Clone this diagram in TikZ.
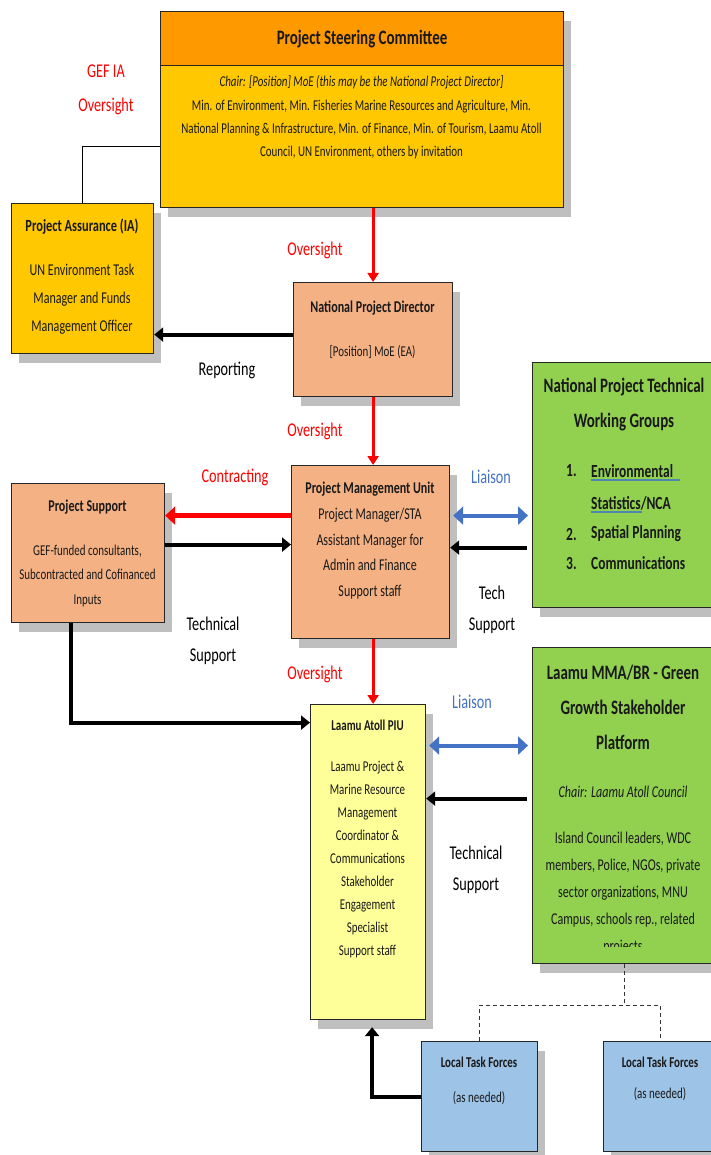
\documentclass[tikz,border=0pt]{standalone}
\usepackage{fontspec}
\setmainfont{Carlito}[FakeStretch=0.73]
\usetikzlibrary{arrows.meta,shadows,calc}
\definecolor{pscorange}{HTML}{FF9900}
\definecolor{gold}{HTML}{FFC800}
\definecolor{salmon}{HTML}{F4B183}
\definecolor{lgreen}{HTML}{92D050}
\definecolor{lyellow}{HTML}{FFFF99}
\definecolor{lblue}{HTML}{9DC3E6}
\definecolor{shade}{HTML}{BFBFBF}
\definecolor{liaisonblue}{HTML}{4472C4}
\definecolor{redtext}{HTML}{FF0000}
\definecolor{spellblue}{HTML}{4F86B0}
\newcommand{\fsz}[2]{\fontsize{#1}{#2}\selectfont}
\tikzset{
  box/.style={draw=black!85, line width=1.2pt, anchor=north west, inner sep=0pt,
    drop shadow={shadow xshift=7pt, shadow yshift=-9pt, fill=shade, opacity=1}},
  txt/.style={inner sep=0pt, align=center, text=black!90},
  lbl/.style={inner sep=0pt, align=center, font=\fsz{19.5}{31}},
  redlbl/.style={lbl, text=redtext},
  bluelbl/.style={lbl, text=liaisonblue},
  redarr/.style={draw=redtext, line width=3pt, -{Triangle[length=9pt,width=11pt]}},
  redthick/.style={draw=redtext, line width=5pt, -{Triangle[length=10pt,width=18pt]}},
  blkarr/.style={draw=black, line width=4pt, -{Triangle[length=9pt,width=14pt]}},
  bluedbl/.style={draw=liaisonblue, line width=4pt, {Triangle[length=10pt,width=18pt]}-{Triangle[length=10pt,width=18pt]}},
  thinln/.style={draw=black, line width=0.8pt},
  dashln/.style={draw=black!80, line width=1pt, dash pattern=on 4pt off 3pt},
}
\begin{document}
\begin{tikzpicture}[x=1pt,y=-1pt]
\useasboundingbox (0,0) rectangle (710,1155);

% ---------- boxes ----------
\node[box,fill=pscorange,minimum width=403pt,minimum height=54pt] (psch) at (160,11) {};
\node[box,fill=gold,minimum width=403pt,minimum height=142pt] (pscb) at (160,65) {};
\node[box,fill=gold,minimum width=142pt,minimum height=150pt] (pa) at (11,203) {};
\node[box,fill=salmon,minimum width=159pt,minimum height=114pt] (npd) at (293,282) {};
\node[box,fill=salmon,minimum width=158pt,minimum height=173pt] (pmu) at (291,465) {};
\node[box,fill=salmon,minimum width=153pt,minimum height=139pt] (ps) at (11,483) {};
\node[box,fill=lgreen,minimum width=184pt,minimum height=245pt] (twg) at (532,362) {};
\node[box,fill=lyellow,minimum width=115pt,minimum height=315pt] (piu) at (310,704) {};
\node[box,fill=lgreen,minimum width=184pt,minimum height=316pt] (laamu) at (532,647) {};
\node[box,fill=lblue,minimum width=116pt,minimum height=110pt] (ltf1) at (421,1041) {};
\node[box,fill=lblue,minimum width=113pt,minimum height=110pt] (ltf2) at (603,1041) {};

% ---------- box texts ----------
\node[txt,font=\bfseries\fsz{20.5}{24}] (psch-t) at (psch.center) {Project Steering Committee};
\node[txt,font=\fsz{15}{23.3}] (pscb-t) at (361.5,117.5)
  {\textit{Chair: [Position] MoE (this may be the National Project Director]}\\
   Min. of Environment, Min. Fisheries Marine Resources and Agriculture, Min.\\
   National Planning \& Infrastructure, Min. of Finance, Min. of Tourism, Laamu Atoll\\
   Council, UN Environment, others by invitation};

\node[txt,font=\bfseries\fsz{17}{20}] (pa-h) at (82,227) {Project Assurance (IA)};
\node[txt,font=\fsz{16.5}{28}] (pa-t) at (82,299) {UN Environment Task\\Manager and Funds\\Management Officer};

\node[txt,font=\bfseries\fsz{16.5}{20}] (npd-h) at (372.5,308) {National Project Director};
\node[txt,font=\fsz{15}{20}] (npd-t) at (372.5,352) {[Position] MoE (EA)};

\node[txt,font=\bfseries\fsz{16.5}{20}] (pmu-h) at (370,489) {Project Management Unit};
\node[txt,font=\fsz{16.5}{25.7}] (pmu-t) at (370,553.5) {Project Manager/STA\\Assistant Manager for\\Admin and Finance\\Support staff};

\node[txt,font=\bfseries\fsz{16.5}{20}] (ps-h) at (87.5,507) {Project Support};
\node[txt,font=\fsz{15}{24.5}] (ps-t) at (87.5,575.5) {GEF-funded consultants,\\Subcontracted and Cofinanced\\Inputs};

\node[txt,font=\bfseries\fsz{20.5}{35}] (twg-h) at (624,404.5) {National Project Technical\\Working Groups};
\node[txt,font=\bfseries\fsz{18.5}{22},anchor=west] (twg-n1) at (566,471) {1.};
\node[txt,font=\bfseries\fsz{18.5}{22},anchor=west] (twg-i1) at (591,471) {Environmental};
\node[txt,font=\bfseries\fsz{18.5}{22},anchor=west] (twg-i1b) at (591,503) {Statistics/NCA};
\node[txt,font=\bfseries\fsz{18.5}{22},anchor=west] (twg-n2) at (566,534) {2.};
\node[txt,font=\bfseries\fsz{18.5}{22},anchor=west] (twg-i2) at (591,534) {Spatial Planning};
\node[txt,font=\bfseries\fsz{18.5}{22},anchor=west] (twg-n3) at (566,563) {3.};
\node[txt,font=\bfseries\fsz{18.5}{22},anchor=west] (twg-i3) at (591,563) {Communications};
\draw[spellblue,line width=2pt] (twg-i1.south west) ++(0,2) -- ++(89,0);
\draw[spellblue,line width=2pt] (twg-i1b.south west) ++(0,2) -- ++(51,0);

\node[txt,font=\bfseries\fsz{15}{20}] (piu-h) at (367.5,725) {Laamu Atoll PIU};
\node[txt,font=\fsz{15}{22.9}] (piu-t) at (367.5,859.5)
  {Laamu Project \&\\Marine Resource\\Management\\Coordinator \&\\Communications\\Stakeholder\\Engagement\\Specialist\\Support staff};

\node[txt,font=\bfseries\fsz{20.5}{35}] (laamu-h) at (623,707) {Laamu MMA/BR - Green\\Growth Stakeholder\\Platform};
\node[txt,font=\itshape\fsz{16.5}{20}] (laamu-c) at (623,792) {Chair: Laamu Atoll Council};
\begin{scope}
\clip (532,647) rectangle (714,946);
\node[txt,font=\fsz{16.5}{27}] (laamu-t) at (623,893)
  {Island Council leaders, WDC\\members, Police, NGOs, private\\sector organizations, MNU\\Campus, schools rep., related\\projects};
\end{scope}

\node[txt,font=\bfseries\fsz{15}{20}] (ltf1-h) at (479,1062) {Local Task Forces};
\node[txt,font=\fsz{15}{20}] (ltf1-t) at (479,1098) {(as needed)};
\node[txt,font=\bfseries\fsz{15}{20}] (ltf2-h) at (660,1062) {Local Task Forces};
\node[txt,font=\fsz{15}{20}] (ltf2-t) at (660,1094) {(as needed)};

% ---------- labels ----------
\node[redlbl,font=\fsz{19.5}{34}] (l-gef) at (106,90) {GEF IA\\Oversight};
\node[redlbl] (l-ov1) at (315,250) {Oversight};
\node[lbl] (l-rep) at (227,370) {Reporting};
\node[redlbl] (l-ov2) at (315,431) {Oversight};
\node[redlbl] (l-con) at (235,477) {Contracting};
\node[bluelbl] (l-lia1) at (491,477) {Liaison};
\node[lbl] (l-ts1) at (213,640.5) {Technical\\Support};
\node[lbl] (l-ts2) at (492,609.5) {Tech\\Support};
\node[redlbl] (l-ov3) at (315,674) {Oversight};
\node[bluelbl] (l-lia2) at (472,702) {Liaison};
\node[lbl] (l-ts3) at (476,869.5) {Technical\\Support};

% ---------- connector points ----------
\coordinate (c-pa) at ([yshift=-10pt]pscb.west);
\coordinate (c-rep) at ([yshift=5pt]npd.west);
\coordinate (c-con) at ([yshift=36.5pt]pmu.west);
\coordinate (c-tps) at ([yshift=7.5pt]pmu.west);
\coordinate (c-lia1) at ([yshift=36.5pt]pmu.east);
\coordinate (c-tech1) at ([yshift=4.5pt]pmu.east);
\coordinate (c-psd) at ([xshift=-17.5pt]ps.south);
\coordinate (c-piuin) at ([yshift=139.5pt]piu.west);
\coordinate (c-lia2) at ([yshift=116.5pt]piu.east);
\coordinate (c-tech2) at ([yshift=63.5pt]piu.east);
\coordinate (c-dj) at ([yshift=-41pt]laamu.south);

% ---------- connectors ----------
\draw[thinln] (pa.north) |- (c-pa);
\draw[redarr] (npd.north |- pscb.south) -- (npd.north);
\draw[blkarr] (c-rep) -- (c-rep -| pa.east);
\draw[redarr] (npd.south) -- (npd.south |- pmu.north);
\draw[redthick] (c-con) -- (c-con -| ps.east);
\draw[blkarr] (c-tps -| ps.east) -- (c-tps);
\draw[bluedbl, shorten >=4pt, shorten <=3pt] (c-lia1) -- (c-lia1 -| twg.west);
\draw[blkarr, shorten <=5pt] (c-tech1 -| twg.west) -- (c-tech1);
\draw[redarr] (npd.south |- pmu.south) -- (npd.south |- piu.north);
\draw[blkarr] (c-psd) |- (c-piuin);
\draw[bluedbl, shorten >=4pt, shorten <=3pt] (c-lia2) -- (c-lia2 -| laamu.west);
\draw[blkarr, shorten <=5pt] (c-tech2 -| laamu.west) -- (c-tech2);
\draw[blkarr, shorten >=7pt] (ltf1.west) -| ([xshift=4pt]piu.south);
\draw[dashln] (laamu.south) -- (c-dj);
\draw[dashln] (ltf1.north) |- (c-dj) -| (ltf2.north);
\end{tikzpicture}
\end{document}
